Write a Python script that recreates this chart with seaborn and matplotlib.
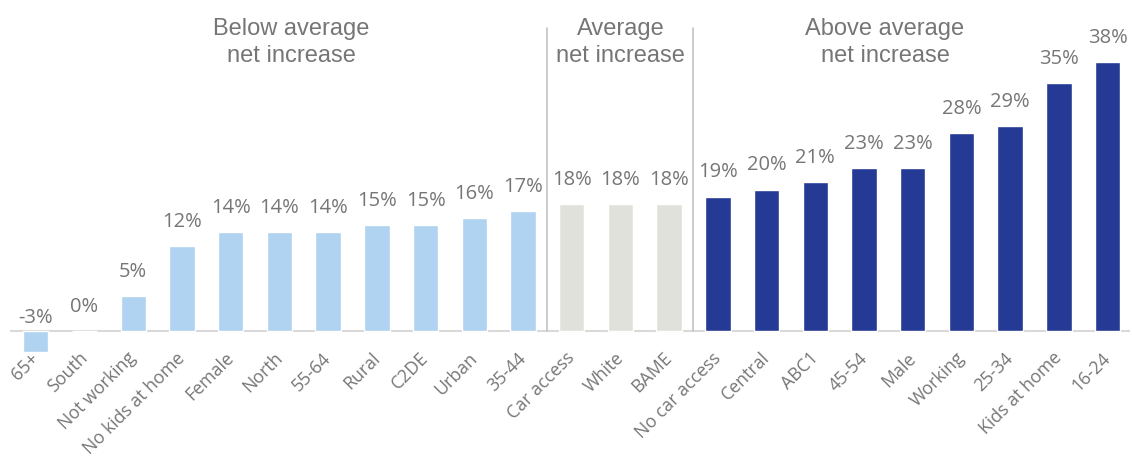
import matplotlib
matplotlib.use("Agg")
import matplotlib.pyplot as plt
import matplotlib.transforms as mtransforms
import seaborn as sns
import pandas as pd

categories = ["65+", "South", "Not working", "No kids at home", "Female", "North",
              "55-64", "Rural", "C2DE", "Urban", "35-44", "Car access", "White",
              "BAME", "No car access", "Central", "ABC1", "45-54", "Male",
              "Working", "25-34", "Kids at home", "16-24"]
values = [-3, 0, 5, 12, 14, 14, 14, 15, 15, 16, 17, 18, 18, 18, 19, 20, 21, 23,
          23, 28, 29, 35, 38]
groups = ["below"] * 11 + ["average"] * 3 + ["above"] * 9
group_titles = ["Below average\nnet increase", "Average\nnet increase",
                "Above average\nnet increase"]

group_colors = {"below": "#AFD3F1", "average": "#E1E1DB", "above": "#253A94"}
text_grey = "#767676"

sns.set_theme(style="white")
plt.rcParams["font.family"] = ["Open Sans", "DejaVu Sans"]

df = pd.DataFrame({"category": categories, "value": values, "group": groups})

fig = plt.figure(figsize=(11.32, 4.59), dpi=100)
ax = fig.add_axes([10 / 1132, 103 / 459, 1120 / 1132, 356 / 459])

sns.barplot(data=df, x="category", y="value", hue="category",
            palette=[group_colors[g] for g in groups], legend=False,
            width=0.52, saturation=1, ax=ax)

ax.set_xlim(-0.53, 22.46)
ax.set_ylim(-3.5, 46.75)
ax.axhline(0, color="#D9D9D9", lw=1.5, zorder=0)

# value labels sit above the bar end (above the baseline for negative bars)
for i, v in enumerate(values):
    y = v + 2.7 if v >= 0 else 1.15
    ax.text(i, y, f"{v}%", ha="center", va="baseline",
            fontsize=14.5, color=text_grey)

# separators between the three groups
for xpos in (10.5, 13.5):
    ax.plot([xpos, xpos], [0, 42.8], color="#C4C4C4", lw=1.2, zorder=0)

title_x = [5.24, 12.01, 17.43]
for tx, title in zip(title_x, group_titles):
    ax.text(tx, 38.0, title, ha="center", va="baseline", fontsize=17,
            color=text_grey, family=["Liberation Sans", "DejaVu Sans"],
            linespacing=1.3)

ax.set_yticks([])
ax.set_xlabel("")
ax.set_ylabel("")
ax.set_xticks(range(len(categories)))
ax.set_xticklabels(categories, rotation=45, ha="right", rotation_mode="anchor",
                   fontsize=12.8, color=text_grey)
ax.tick_params(axis="x", length=0, pad=-5)
shift = mtransforms.ScaledTranslation(-0.06, 0, fig.dpi_scale_trans)
for lbl in ax.get_xticklabels():
    lbl.set_transform(lbl.get_transform() + shift)
for s in ax.spines.values():
    s.set_visible(False)

fig.savefig("out.png", dpi=100)
